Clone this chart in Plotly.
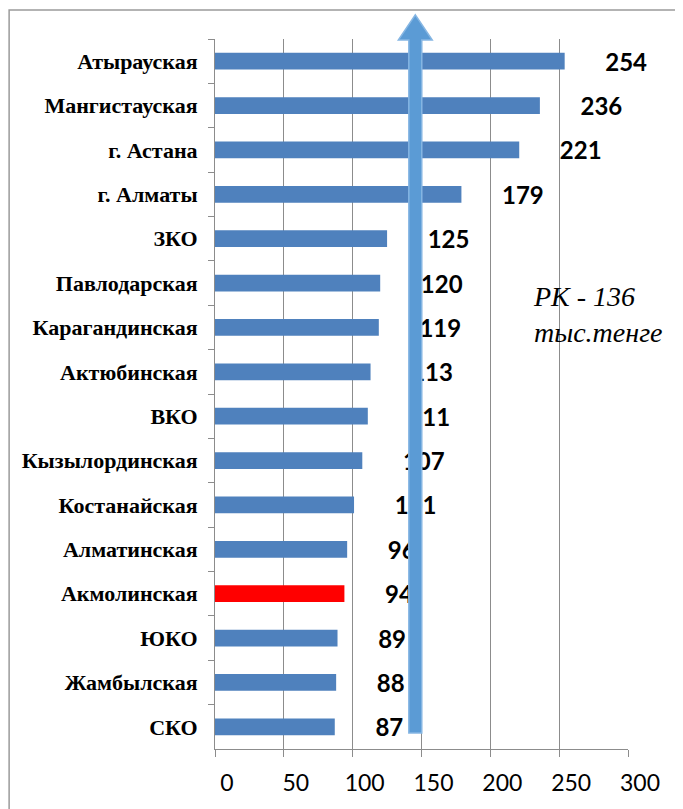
"""Average wage by region, horizontal bar chart."""

import plotly.graph_objects as go

regions = [
    "Атырауская", "Мангистауская", "г. Астана", "г. Алматы", "ЗКО",
    "Павлодарская", "Карагандинская", "Актюбинская", "ВКО", "Кызылординская",
    "Костанайская", "Алматинская", "Акмолинская", "ЮКО", "Жамбылская", "СКО",
]
values = [254, 236, 221, 179, 125, 120, 119, 113, 111, 107, 101, 96, 94, 89, 88, 87]
highlight = "Акмолинская"
x_ticks = [0, 50, 100, 150, 200, 250, 300]
note_text = "<i>РК - 136<br>тыс.тенге</i>"

BLUE = "#4F81BD"
RED = "#FF0000"
GRID = "#8C8C8C"
ARROW_X = 145.5      # where the hand-drawn arrow sits on the value axis
LABEL_OFFSET = 29.5  # labels are pushed right of the bar ends
LABEL_DROP = 0.08    # labels sit a touch below the bar centre (in bands)

colors = [RED if r == highlight else BLUE for r in regions]
n = len(regions)

fig = go.Figure()

fig.add_trace(go.Bar(
    x=values,
    y=regions,
    orientation="h",
    marker=dict(color=colors, line=dict(width=0)),
    hoverinfo="x+y",
    showlegend=False,
))

# value labels as a text trace so the arrow can sit above them
fig.add_trace(go.Scatter(
    x=[v + LABEL_OFFSET for v in values],
    y=regions,
    yaxis="y2",
    mode="text",
    text=[str(v) for v in values],
    textposition="middle right",
    textfont=dict(family="Lato", size=24, color="black", weight="bold"),
    hoverinfo="skip",
    showlegend=False,
    cliponaxis=False,
))

# arrow (shaft + head), drawn on top
sw, hw = 4.7, 12.3
arrow_path = (
    f"M {ARROW_X - sw},0.0225 L {ARROW_X + sw},0.0225 "
    f"L {ARROW_X + sw},0.9986 L {ARROW_X + hw},0.9986 "
    f"L {ARROW_X},1.034 L {ARROW_X - hw},0.9986 "
    f"L {ARROW_X - sw},0.9986 Z"
)
fig.add_shape(
    type="path", path=arrow_path, xref="x", yref="paper",
    fillcolor="#5B9BD5", line=dict(color="#86B6E3", width=1.5),
    layer="above",
)

# outer chart frame (left and top edges visible)
fig.add_shape(
    type="rect", xref="paper", yref="paper",
    x0=-0.4985, x1=1.3, y0=-0.3, y1=1.0408,
    line=dict(color="#9A9A9A", width=1.5), layer="below",
)

fig.add_annotation(
    text=note_text, xref="paper", yref="paper",
    x=0.766, y=0.612, xanchor="left", yanchor="middle",
    align="left", showarrow=False,
    font=dict(family="Liberation Serif", size=28, color="black"),
)

# page body adds an 8px margin, so the figure is 8px smaller than the window
fig.update_layout(
    width=675,
    height=801,
    margin=dict(l=207, r=55, t=31, b=60, autoexpand=False),
    paper_bgcolor="white",
    plot_bgcolor="white",
    bargap=0.62,
    xaxis=dict(
        range=[0, 300],
        tickvals=x_ticks,
        showgrid=True, gridcolor=GRID, gridwidth=1,
        showline=True, linecolor=GRID, linewidth=1,
        ticks="outside", ticklen=7, tickcolor=GRID,
        ticklabelshift=12, ticklabelstandoff=6,
        tickfont=dict(family="Lato", size=23, color="black"),
        zeroline=False, fixedrange=True,
    ),
    yaxis=dict(
        range=[n - 0.5, -0.5],
        categoryorder="array", categoryarray=regions,
        showline=True, linecolor=GRID, linewidth=1,
        ticks="outside", ticklen=6, tickcolor=GRID, tickson="boundaries",
        ticklabelstandoff=12,
        tickfont=dict(family="Liberation Serif", size=22, color="black", weight="bold"),
        showgrid=False, fixedrange=True,
    ),
    yaxis2=dict(
        overlaying="y",
        range=[n - 0.5 - LABEL_DROP, -0.5 - LABEL_DROP],
        categoryorder="array", categoryarray=regions,
        visible=False, fixedrange=True,
    ),
)

fig.write_html("out.html")
